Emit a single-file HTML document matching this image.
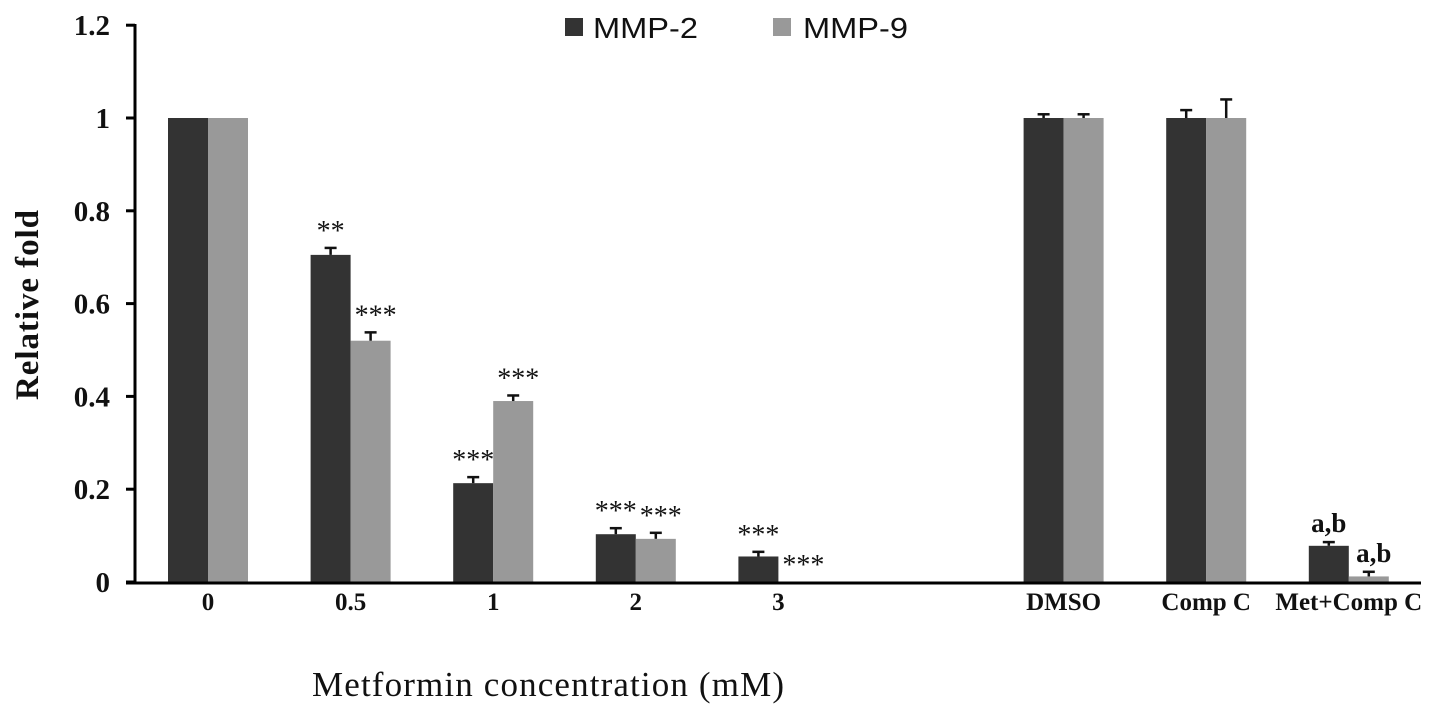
<!DOCTYPE html>
<html><head><meta charset="utf-8"><style>
body{margin:0;background:#fff;}
svg text{font-family:"Liberation Serif",serif;}
</style></head><body>
<svg id="chart" width="1441" height="711" viewBox="0 0 1441 711" xmlns="http://www.w3.org/2000/svg">
<g id="legend">
  <rect x="565" y="18" width="18" height="18" fill="#333"/>
  <text x="593" y="38" font-size="29" textLength="105" lengthAdjust="spacingAndGlyphs" style="font-family:'Liberation Sans',sans-serif" fill="#111">MMP-2</text>
  <rect x="773" y="18" width="18" height="18" fill="#999"/>
  <text x="803" y="38" font-size="29" textLength="105" lengthAdjust="spacingAndGlyphs" style="font-family:'Liberation Sans',sans-serif" fill="#111">MMP-9</text>
</g>
<text transform="translate(38,305) rotate(-90)" text-anchor="middle" font-size="33" font-weight="bold" textLength="190" fill="#111">Relative fold</text>
<text x="548" y="696" text-anchor="middle" font-size="35" textLength="472" fill="#111">Metformin concentration (mM)</text>
<g id="marks"></g>
</svg>
<script>
const categories = ["0","0.5","1","2","3","","DMSO","Comp C","Met+Comp C"];
const mmp2 = [1, 0.705, 0.213, 0.103, 0.055, null, 1, 1, 0.078];
const mmp2Err = [0, 0.015, 0.013, 0.013, 0.01, null, 0.008, 0.017, 0.008];
const mmp9 = [1, 0.52, 0.39, 0.093, 0, null, 1, 1, 0.012];
const mmp9Err = [0, 0.018, 0.012, 0.013, 0, null, 0.008, 0.04, 0.01];
const mmp2Labels = ["", "**", "***", "***", "***", "", "", "", "a,b"];
const mmp9Labels = ["", "***", "***", "***", "***", "", "", "", "a,b"];
const yTicks = [0, 0.2, 0.4, 0.6, 0.8, 1, 1.2];
const yTickLabels = ["0","0.2","0.4","0.6","0.8","1","1.2"];

const NS="http://www.w3.org/2000/svg";
const g=document.getElementById('marks');
const y0=582, yScale=(582-118);
function y(v){return y0 - v*yScale;}
function xc(i){return 208 + i*142.6;}
const bw=40;
function el(tag,attrs,parent){const e=document.createElementNS(NS,tag);for(const k in attrs)e.setAttribute(k,attrs[k]);(parent||g).appendChild(e);return e;}

for(let i=0;i<categories.length;i++){
  if(mmp2[i]===null) continue;
  const series=[[mmp2[i],mmp2Err[i],mmp2Labels[i],'#333',-bw,'mmp2'],[mmp9[i],mmp9Err[i],mmp9Labels[i],'#999',0,'mmp9']];
  for(const [v,e,lab,col,off,nm] of series){
    const x=xc(i)+off;
    if(v>0){
      const r=el('rect',{x:x,y:y(v),width:bw,height:y0-y(v),fill:col});
      
      
    }
    if(e>0){
      const cx=x+bw/2;
      const l=el('line',{x1:cx,x2:cx,y1:y(v),y2:y(v+e),stroke:'#111','stroke-width':2.5});
      
      
      const c=el('line',{x1:cx-6,x2:cx+6,y1:y(v+e),y2:y(v+e),stroke:'#111','stroke-width':2.5});
      
      
    }
    if(lab){
      const ab=lab.indexOf('a')>=0;
      const t=el('text',{x:x+bw/2+(nm==='mmp9'?5:0),y:y(v+e)-(ab?10:8),'text-anchor':'middle','font-size':ab?27:28,'font-weight':ab?'bold':'normal',fill:'#111'});
      t.textContent=lab;
      
      
    }
  }
  if(categories[i]){
    const t=el('text',{x:xc(i),y:610,'text-anchor':'middle','font-size':25,'font-weight':'bold',fill:'#111'});
    t.textContent=categories[i];
    
    
  }
}
const ya=el('line',{x1:135,x2:135,y1:24,y2:584,stroke:'#000','stroke-width':3});


const xa=el('line',{x1:126,x2:1421,y1:583,y2:583,stroke:'#000','stroke-width':3});


yTicks.forEach((v,k)=>{
  const tk=el('line',{x1:126,x2:135,y1:y(v),y2:y(v),stroke:'#000','stroke-width':3});
  
  
  const t=el('text',{x:110,y:y(v)+10,'text-anchor':'end','font-size':29,'font-weight':'bold',fill:'#111'});
  t.textContent=yTickLabels[k];
  
  
});
</script>
</body></html>
